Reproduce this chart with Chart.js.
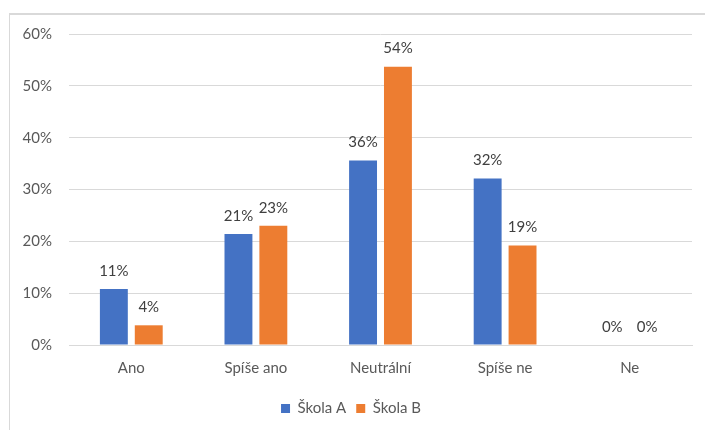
<!DOCTYPE html>
<html>
<head>
<meta charset="utf-8">
<script src="https://cdn.jsdelivr.net/npm/chart.js@4"></script>
<style>
  html, body { margin: 0; padding: 0; background: #fff; }
  #ramec { position: absolute; left: 9px; top: 13px; width: 700px; height: 430px;
           border-left: 1px solid #d9d9d9; border-top: 2px solid #d9d9d9; }
  #obal { position: absolute; left: 0; top: 0; width: 705px; height: 430px; }
</style>
</head>
<body>
<div id="ramec"></div>
<div id="obal"><canvas id="graf_skoly"></canvas></div>
<script>
const kategorie = ['Ano', 'Spíše ano', 'Neutrální', 'Spíše ne', 'Ne'];
const skola_a = [10.8, 21.4, 35.6, 32.1, 0];
const skola_b = [3.8, 23.0, 53.7, 19.2, 0];

const pismo = 'Lato, "Open Sans", sans-serif';

const popisky_sloupcu = {
  id: 'popisky_sloupcu',
  afterDatasetsDraw(chart) {
    const ctx = chart.ctx;
    ctx.save();
    ctx.font = '15px ' + pismo;
    ctx.fillStyle = '#404040';
    ctx.textAlign = 'center';
    ctx.textBaseline = 'middle';
    chart.data.datasets.forEach((ds, i) => {
      chart.getDatasetMeta(i).data.forEach((bar, j) => {
        ctx.fillText(Math.round(ds.data[j]) + '%', bar.x, bar.y - 18);
      });
    });
    ctx.restore();
  }
};

const ctx_graf = document.getElementById('graf_skoly').getContext('2d');

new Chart(ctx_graf, {
  type: 'bar',
  data: {
    labels: kategorie,
    datasets: [
      { label: 'Škola A', data: skola_a, backgroundColor: '#4472c4',
        categoryPercentage: 0.56, barPercentage: 0.8 },
      { label: 'Škola B', data: skola_b, backgroundColor: '#ed7d31',
        categoryPercentage: 0.56, barPercentage: 0.8 }
    ]
  },
  options: {
    responsive: true,
    maintainAspectRatio: false,
    animation: false,
    layout: { padding: { left: 10, top: 34, right: 13, bottom: 4 } },
    scales: {
      x: {
        grid: { display: false },
        border: { color: '#d9d9d9' },
        ticks: { color: '#595959', font: { size: 15, family: pismo }, padding: 6 },
        afterFit: (s) => { s.height = 46; }
      },
      y: {
        min: 0, max: 60,
        ticks: { stepSize: 10, color: '#595959', padding: 17,
                 font: { size: 15, family: pismo },
                 callback: (v) => v + '%' },
        grid: { color: '#d9d9d9', drawTicks: false },
        border: { display: false },
        afterFit: (s) => { s.width = 59; }
      }
    },
    plugins: {
      legend: {
        position: 'bottom',
        labels: { boxWidth: 9, boxHeight: 9, color: '#595959', padding: 10,
                  font: { size: 15, family: pismo } }
      },
      tooltip: { enabled: false }
    }
  },
  plugins: [popisky_sloupcu]
});
</script>
</body>
</html>
